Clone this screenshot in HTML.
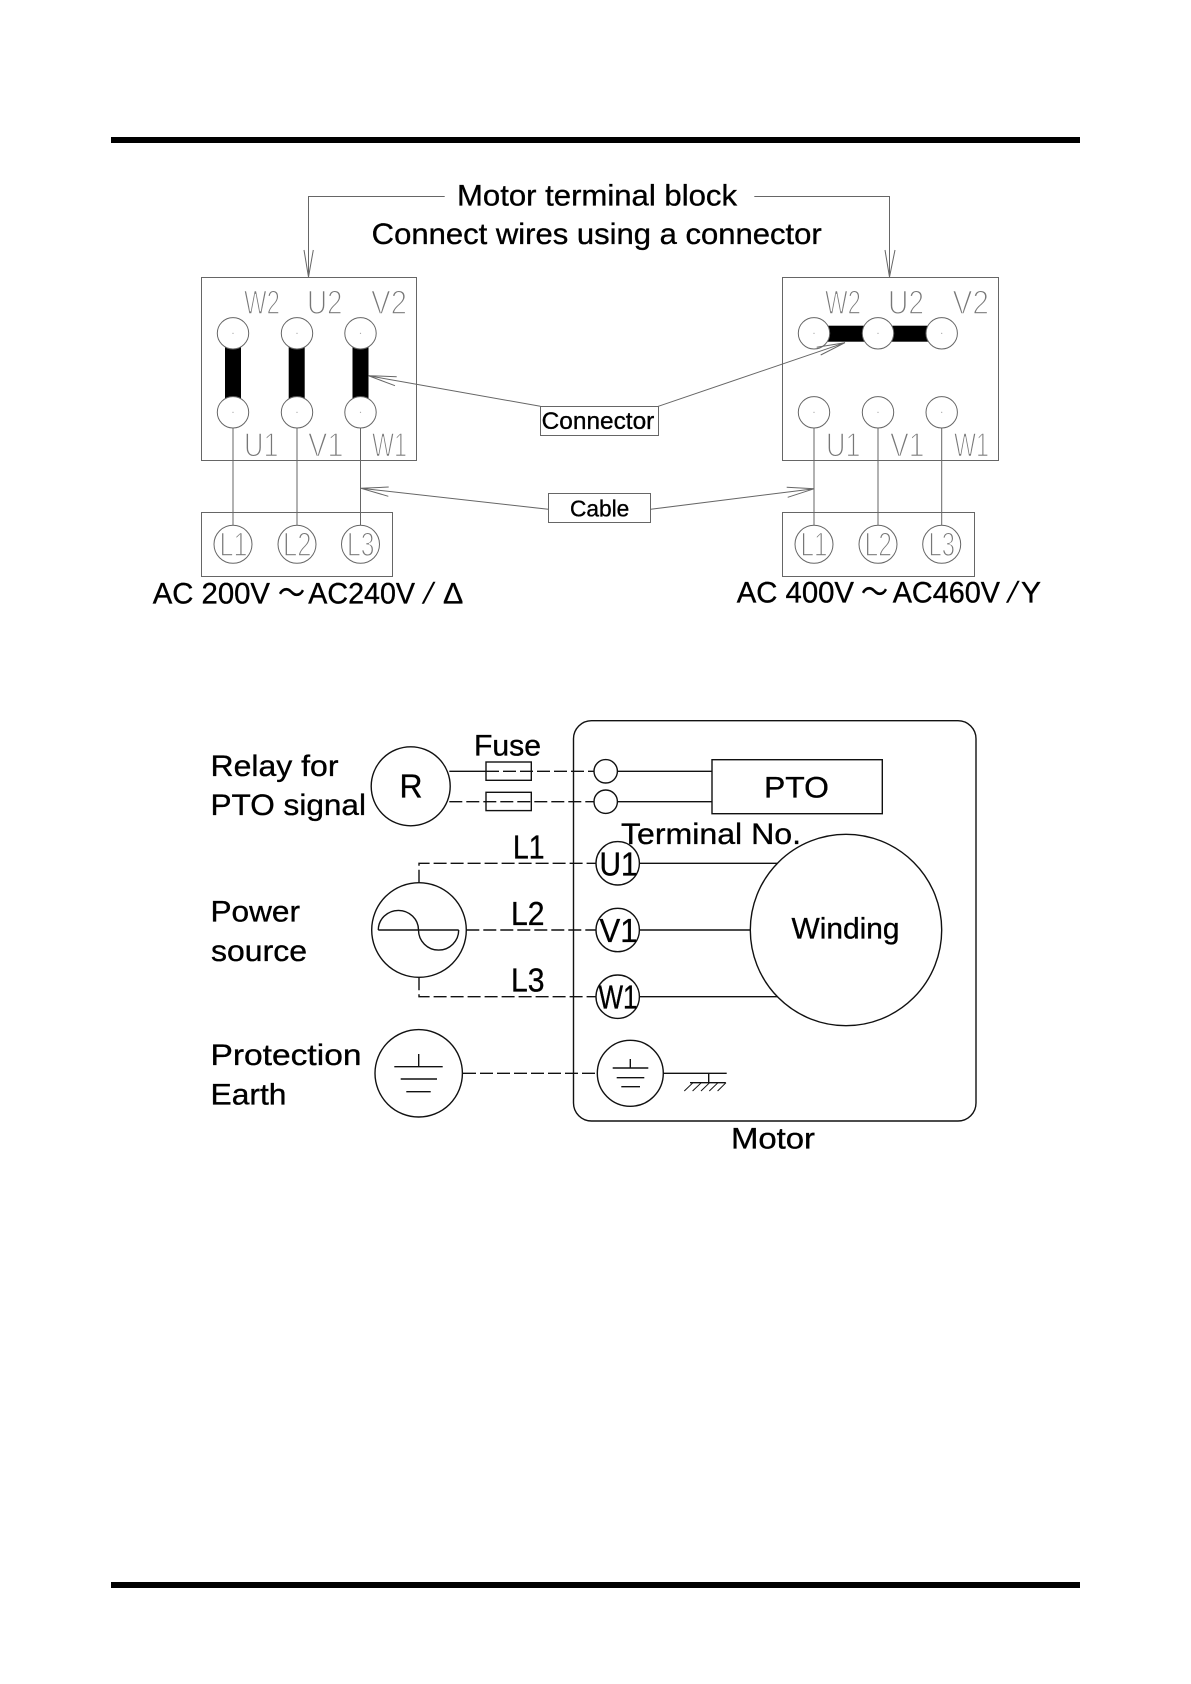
<!DOCTYPE html>
<html><head><meta charset="utf-8"><style>
html,body{margin:0;padding:0;background:#fff}
svg{display:block}
text{font-family:"Liberation Sans","Noto Sans CJK JP",sans-serif;fill:#000;stroke:#000;stroke-width:.35px}
.t{font-size:30px}
.b{font-size:33px}
.g text{font-size:34px;fill:#777;stroke:#fff;stroke-width:1.4px}
.u{fill:none;stroke:#666;stroke-width:1}
.u circle{fill:#fff}
.k{fill:none;stroke:#111;stroke-width:1.4}
.d{fill:none;stroke:#111;stroke-width:1.4;stroke-dasharray:13 4}
</style></head><body>
<svg width="1191" height="1684" viewBox="0 0 1191 1684" xmlns="http://www.w3.org/2000/svg">
<rect width="1191" height="1684" fill="#fff"/>
<rect x="111" y="137" width="969" height="6" fill="#000"/>
<rect x="111" y="1582" width="969" height="6" fill="#000"/>

<!-- upper diagram -->
<g class="u">
<rect x="201.5" y="277.5" width="215" height="183"/>
<rect x="201.5" y="512.5" width="191" height="64"/>
<rect x="782.5" y="277.5" width="216" height="183"/>
<rect x="782.5" y="512.5" width="192" height="64"/>
<path d="M444.7 196.5H308.5V277M304 250L308.5 277L313.3 250"/>
<path d="M754.3 196.5H889.5V277M885 250L889.5 277L895 250"/>
<path d="M233 428V525M297 428V525M360.5 428V525M814 428V525M878 428V525M941.7 428V525"/>
</g>
<rect x="225" y="333" width="16" height="79" fill="#000"/>
<rect x="288.7" y="333" width="16" height="79" fill="#000"/>
<rect x="352.5" y="333" width="16" height="79" fill="#000"/>
<rect x="814" y="325.7" width="128" height="16" fill="#000"/>
<g class="u">
<circle cx="233" cy="333.3" r="15.7"/><circle cx="297" cy="333.3" r="15.7"/><circle cx="360.5" cy="333.3" r="15.7"/>
<circle cx="233" cy="412.3" r="15.7"/><circle cx="297" cy="412.3" r="15.7"/><circle cx="360.5" cy="412.3" r="15.7"/>
<circle cx="814" cy="333.3" r="15.7"/><circle cx="878" cy="333.3" r="15.7"/><circle cx="941.7" cy="333.3" r="15.7"/>
<circle cx="814" cy="412.3" r="15.7"/><circle cx="878" cy="412.3" r="15.7"/><circle cx="941.7" cy="412.3" r="15.7"/>
<circle cx="233" cy="544.3" r="19"/><circle cx="297" cy="544.3" r="19"/><circle cx="360.5" cy="544.3" r="19"/>
<circle cx="814" cy="544.3" r="19"/><circle cx="878" cy="544.3" r="19"/><circle cx="941.7" cy="544.3" r="19"/>
<path d="M540.3 406.3L368.3 375.7M396.7 376.7L368.3 375.7L395 385.7"/>
<path d="M658.3 406.3L845 342.7M816.7 347.3L845 342.7L820.7 355"/>
<path d="M548.3 509.3L361 488.3M388.7 487L361 488.3L388.3 496.3"/>
<path d="M650.7 509.3L814.3 488.7M786.7 487.3L814.3 488.7L787.7 497.3"/>
<rect x="540.5" y="406.5" width="118" height="29"/>
<rect x="548.5" y="493.5" width="102" height="29"/>
</g>
<g fill="#999">
<circle cx="233" cy="333.3" r=".6"/><circle cx="297" cy="333.3" r=".6"/><circle cx="360.5" cy="333.3" r=".6"/>
<circle cx="233" cy="412.3" r=".6"/><circle cx="297" cy="412.3" r=".6"/><circle cx="360.5" cy="412.3" r=".6"/>
<circle cx="814" cy="333.3" r=".6"/><circle cx="878" cy="333.3" r=".6"/><circle cx="941.7" cy="333.3" r=".6"/>
<circle cx="814" cy="412.3" r=".6"/><circle cx="878" cy="412.3" r=".6"/><circle cx="941.7" cy="412.3" r=".6"/>
</g>
<g class="g">
<text x="244" y="314" textLength="36" lengthAdjust="spacingAndGlyphs">W2</text>
<text x="307" y="314" textLength="35.5" lengthAdjust="spacingAndGlyphs">U2</text>
<text x="371" y="314" textLength="36" lengthAdjust="spacingAndGlyphs">V2</text>
<text x="244" y="456.7" textLength="34.5" lengthAdjust="spacingAndGlyphs">U1</text>
<text x="308" y="456.7" textLength="35.5" lengthAdjust="spacingAndGlyphs">V1</text>
<text x="372" y="456.7" textLength="35" lengthAdjust="spacingAndGlyphs">W1</text>
<text x="825" y="314" textLength="36" lengthAdjust="spacingAndGlyphs">W2</text>
<text x="888" y="314" textLength="36" lengthAdjust="spacingAndGlyphs">U2</text>
<text x="952.5" y="314" textLength="36.5" lengthAdjust="spacingAndGlyphs">V2</text>
<text x="826" y="456.7" textLength="34.5" lengthAdjust="spacingAndGlyphs">U1</text>
<text x="890" y="456.7" textLength="34.5" lengthAdjust="spacingAndGlyphs">V1</text>
<text x="954" y="456.7" textLength="35" lengthAdjust="spacingAndGlyphs">W1</text>
<text x="219.5" y="556" textLength="28" lengthAdjust="spacingAndGlyphs">L1</text>
<text x="283" y="556" textLength="28.5" lengthAdjust="spacingAndGlyphs">L2</text>
<text x="347" y="556" textLength="27.5" lengthAdjust="spacingAndGlyphs">L3</text>
<text x="800.5" y="556" textLength="27" lengthAdjust="spacingAndGlyphs">L1</text>
<text x="864.5" y="556" textLength="27.5" lengthAdjust="spacingAndGlyphs">L2</text>
<text x="928.5" y="556" textLength="26.5" lengthAdjust="spacingAndGlyphs">L3</text>
</g>
<text class="t" x="457" y="205.3" textLength="280" lengthAdjust="spacingAndGlyphs">Motor terminal block</text>
<text class="t" x="371.7" y="244" textLength="450" lengthAdjust="spacingAndGlyphs">Connect wires using a connector</text>
<text x="541.7" y="429" font-size="24" textLength="112.6" lengthAdjust="spacingAndGlyphs">Connector</text>
<text x="570" y="516.7" font-size="23" textLength="59.3" lengthAdjust="spacingAndGlyphs">Cable</text>
<text class="t" x="152.7" y="603.3" textLength="117.3" lengthAdjust="spacingAndGlyphs">AC 200V</text>
<text class="t" x="278" y="603.3" textLength="27" lengthAdjust="spacingAndGlyphs">～</text>
<text class="t" x="308.3" y="603.3" textLength="106.7" lengthAdjust="spacingAndGlyphs">AC240V</text>
<text class="t" style="stroke:none" x="0" y="0" transform="translate(421.7 603.3) skewX(-14)">/</text>
<text class="t" x="443" y="603.3" textLength="20.3" lengthAdjust="spacingAndGlyphs">Δ</text>
<text class="t" x="736.7" y="602.3" textLength="117.3" lengthAdjust="spacingAndGlyphs">AC 400V</text>
<text class="t" x="861" y="602.3" textLength="27" lengthAdjust="spacingAndGlyphs">～</text>
<text class="t" x="892.7" y="602.3" textLength="107.3" lengthAdjust="spacingAndGlyphs">AC460V</text>
<text class="t" style="stroke:none" x="0" y="0" transform="translate(1006 602.3) skewX(-14)">/</text>
<text class="t" x="1021" y="602.3" textLength="20" lengthAdjust="spacingAndGlyphs">Y</text>

<!-- lower diagram -->
<rect class="k" x="573.5" y="720.7" width="402.5" height="400.3" rx="18"/>
<path class="k" d="M449.3 771.3H486M617 771.3H712M617 801.7H712"/>
<path class="d" d="M486 771.3H594M449.3 801.7H594"/>
<circle class="k" cx="410.7" cy="786.3" r="39.5"/>
<rect class="k" x="486" y="762" width="45.3" height="18.3"/>
<rect class="k" x="486" y="792.3" width="45.3" height="18.3"/>
<circle class="k" cx="605.7" cy="771.3" r="11.7"/>
<circle class="k" cx="605.7" cy="801.7" r="11.7"/>
<rect class="k" x="712" y="759.7" width="170.3" height="54"/>
<path class="d" d="M419 882.7V863.3H596M466.3 930H596M419 977.3V996.7H596M463 1073.3H597.3"/>
<circle class="k" cx="419" cy="930" r="47.3"/>
<path class="k" d="M378.3 930H458.7M378.3 930A20 19.5 0 0 1 418.5 930A20 20 0 0 0 458.7 930"/>
<circle class="k" cx="617.7" cy="863.3" r="21.7"/>
<circle class="k" cx="617.7" cy="930" r="21.7"/>
<circle class="k" cx="617.7" cy="996.7" r="21.7"/>
<path class="k" d="M639.4 863.3H778.3M639.4 930H750.7M639.4 996.7H778.3"/>
<circle class="k" cx="846" cy="930" r="95.7" style="fill:#fff"/>
<circle class="k" cx="418.7" cy="1073.3" r="43.7"/>
<path class="k" d="M418.7 1054V1066.7M394.3 1066.7H442.7M400.7 1079H437M406.3 1091.7H430.7"/>
<circle class="k" cx="630.3" cy="1073.3" r="33"/>
<path class="k" d="M630.3 1059V1068M612.7 1068H648.3M616.7 1077.7H644.3M621.3 1086.7H640"/>
<path class="k" d="M663.3 1073.3H726.7M708.7 1073.3V1082.7M690 1082.7H725.7"/>
<path class="k" style="stroke-width:1" d="M684.3 1091L693 1082.7M692.6 1091L701.3 1082.7M701 1091L709.6 1082.7M709.3 1091L718 1082.7M717.6 1091L726 1082.7"/>

<text class="t" x="210.5" y="776" textLength="128" lengthAdjust="spacingAndGlyphs">Relay for</text>
<text class="t" x="210.5" y="815" textLength="155.5" lengthAdjust="spacingAndGlyphs">PTO signal</text>
<text class="t" x="210.5" y="921.7" textLength="89.5" lengthAdjust="spacingAndGlyphs">Power</text>
<text class="t" x="211" y="961" textLength="96" lengthAdjust="spacingAndGlyphs">source</text>
<text class="t" x="210.5" y="1065" textLength="151" lengthAdjust="spacingAndGlyphs">Protection</text>
<text class="t" x="210.5" y="1104.3" textLength="76" lengthAdjust="spacingAndGlyphs">Earth</text>
<text class="t" x="474" y="755.3" textLength="67" lengthAdjust="spacingAndGlyphs">Fuse</text>
<text class="b" x="399.5" y="797.3" textLength="23" lengthAdjust="spacingAndGlyphs">R</text>
<text class="b" x="513" y="858.5" textLength="31.5" lengthAdjust="spacingAndGlyphs">L1</text>
<text class="b" x="511" y="925" textLength="33.5" lengthAdjust="spacingAndGlyphs">L2</text>
<text class="b" x="511" y="991.5" textLength="33.5" lengthAdjust="spacingAndGlyphs">L3</text>
<text class="t" x="764" y="797.3" textLength="65" lengthAdjust="spacingAndGlyphs">PTO</text>
<text class="t" x="621" y="844" textLength="180" lengthAdjust="spacingAndGlyphs">Terminal No.</text>
<text class="b" x="599.5" y="875.5" textLength="38" lengthAdjust="spacingAndGlyphs">U1</text>
<text class="b" x="599.5" y="942" textLength="38" lengthAdjust="spacingAndGlyphs">V1</text>
<text class="b" x="598.5" y="1008.5" textLength="39" lengthAdjust="spacingAndGlyphs">W1</text>
<text class="t" x="791.5" y="938.7" textLength="108" lengthAdjust="spacingAndGlyphs">Winding</text>
<text class="t" x="731" y="1148.3" textLength="84" lengthAdjust="spacingAndGlyphs">Motor</text>
</svg>
</body></html>
